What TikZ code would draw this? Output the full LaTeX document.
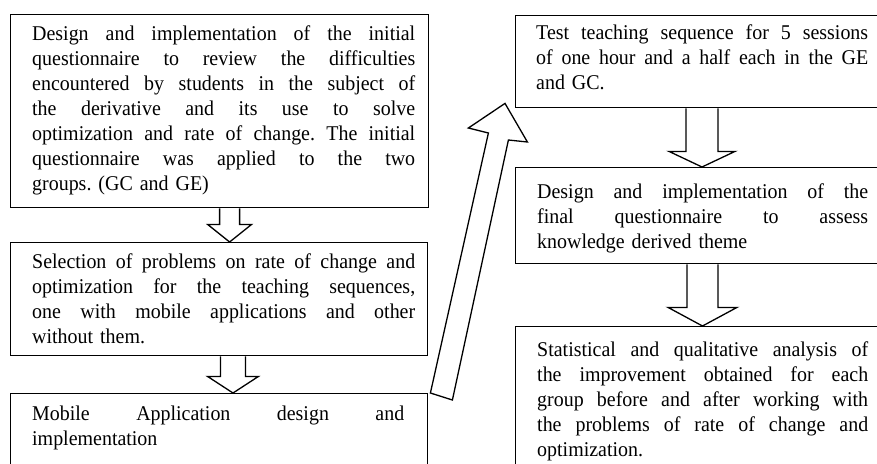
\documentclass[tikz,border=0pt]{standalone}
\usepackage{fontspec}
\setmainfont{Liberation Serif}[FakeStretch=0.95]
\usetikzlibrary{calc}
% lines of a justified paragraph, stacked as boxes:
% \jline spreads its words over the width held in \jw, \eline is a last (ragged) line
\newlength\jw
\newcommand\jline[1]{\hbox to \jw{\spaceskip=\fontdimen2\font plus 1fil\relax\strut #1}}
\newcommand\eline[1]{\hbox{\strut #1}}
% hollow block arrow pointing down from one box to the next
% #1 upper box, #2 lower box, #3 centre x (from west side), #4 shaft half width,
% #5 head half width, #6 shaft length
\newcommand\dnarrow[6]{%
  \draw[blk] ($(#1.south west)+({#3-#4},0)$) -- ++(0,#6) -- ++({#4-#5},0)
    -- ($(#2.north west)+(#3,0)$) -- ($(#1.south west)+({#3+#5},#6)$)
    -- ++({#4-#5},0) -- ($(#1.south west)+({#3+#4},0)$);}
\begin{document}
\frenchspacing
\begin{tikzpicture}[x=1pt,y=-1pt,
  box/.style={draw,line width=1.4pt,anchor=north west,inner sep=0pt},
  txt/.style={anchor=north west,inner sep=0pt,font=\fontsize{21}{25}\selectfont},
  blk/.style={draw,fill=white,line width=1.3pt,line join=miter}]
\useasboundingbox (0,0) rectangle (877,463);
\fill[white] (0,0) rectangle (877,463);
\clip (0,0) rectangle (877,463);

% left column
\node[box,minimum width=418pt,minimum height=193pt] (b1) at (10,14) {};
\node[box,minimum width=417pt,minimum height=113pt] (b2) at (10,242) {};
\node[box,minimum width=417pt,minimum height=90pt] (b3) at (10,393) {};

% right column
\node[box,minimum width=420pt,minimum height=92pt] (b4) at (515,15) {};
\node[box,minimum width=420pt,minimum height=96pt] (b5) at (515,167) {};
\node[box,minimum width=420pt,minimum height=170pt] (b6) at (515,326) {};

% texts (top = first baseline - strut height)
\node[txt,text width=383pt] (t1) at ($(b1.north west)+(22,8.5)$) {%
  \setlength\jw{383pt}%
  \jline{Design and implementation of the initial}
  \jline{questionnaire to review the difficulties}
  \jline{encountered by students in the subject of}
  \jline{the derivative and its use to solve}
  \jline{optimization and rate of change. The initial}
  \jline{questionnaire was applied to the two}
  \eline{groups. (GC and GE)}};
\node[txt,text width=383pt] (t2) at ($(b2.north west)+(22,8.5)$) {%
  \setlength\jw{383pt}%
  \jline{Selection of problems on rate of change and}
  \jline{optimization for the teaching sequences,}
  \jline{one with mobile applications and other}
  \eline{without them.}};
\node[txt,text width=383pt] (t3) at ($(b3.north west)+(22,9.5)$) {%
  \setlength\jw{372pt}%
  \jline{Mobile Application design and}
  \eline{implementation}};
\node[txt,text width=332pt] (t4) at ($(b4.north west)+(21,6.5)$) {%
  \setlength\jw{332pt}%
  \jline{Test teaching sequence for 5 sessions}
  \jline{of one hour and a half each in the GE}
  \eline{and GC.}};
\node[txt,text width=332pt] (t5) at ($(b5.north west)+(22,13.5)$) {%
  \setlength\jw{331pt}%
  \jline{Design and implementation of the}
  \jline{final questionnaire to assess}
  \eline{knowledge derived theme}};
\node[txt,text width=332pt] (t6) at ($(b6.north west)+(22,12.5)$) {%
  \setlength\jw{331pt}%
  \jline{Statistical and qualitative analysis of}
  \jline{the improvement obtained for each}
  \jline{group before and after working with}
  \jline{the problems of rate of change and}
  \eline{optimization.}};

% block arrows between the boxes
\dnarrow{b1}{b2}{219.6}{10}{22}{16}
\dnarrow{b2}{b3}{223}{12.5}{25.5}{20}
\dnarrow{b4}{b5}{187}{16}{33}{43}
\dnarrow{b5}{b6}{187.5}{15.5}{34.5}{43}

% slanted block arrow from the bottom left box up to the first right box
\draw[blk] ($(b3.north east)+(2,0)$) -- ($(b3.north east)+(60,-260)$)
  -- ($(b3.north east)+(40,-265)$) -- ($(b4.south west)+(-10,-5)$)
  -- ($(b3.north east)+(99,-251)$) -- ($(b3.north east)+(80,-253)$)
  -- ($(b3.north east)+(24,7)$) -- cycle;
\end{tikzpicture}
\end{document}
